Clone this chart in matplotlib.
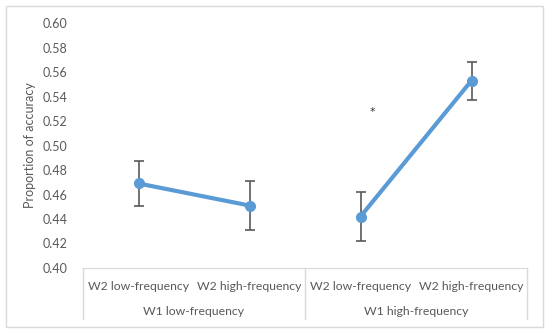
import matplotlib.pyplot as plt
from matplotlib.patches import Rectangle

plt.rcParams['font.family'] = ['Lato', 'DejaVu Sans']

w2_labels = ["W2 low-frequency", "W2 high-frequency", "W2 low-frequency", "W2 high-frequency"]
w1_labels = ["W1 low-frequency", "W1 high-frequency"]
accuracy_low = [0.469, 0.451]
accuracy_high = [0.442, 0.553]
err_low = [0.018, 0.020]
err_high = [0.020, 0.0155]
star_y = 0.527

text_col = "#595959"
line_col = "#5B9BD5"
grid_col = "#D9D9D9"


def main():
    fig = plt.figure(figsize=(5.5, 3.33), dpi=100)
    fig.patches.append(Rectangle((6 / 550, 6 / 333), 537 / 550, 321 / 333,
                                 transform=fig.transFigure, fill=False,
                                 edgecolor=grid_col, lw=1))
    ax = fig.add_axes([83 / 550, 65 / 333, 444 / 550, 245 / 333])

    for xs, ys, es in [([0, 1], accuracy_low, err_low), ([2, 3], accuracy_high, err_high)]:
        ax.errorbar(xs, ys, yerr=es, fmt="none", ecolor=text_col, elinewidth=1.2,
                    capsize=3.5, capthick=1.2, zorder=2)
        ax.plot(xs, ys, color=line_col, lw=3, marker="o", ms=7, zorder=3)

    ax.text(2.11, star_y, "*", ha="center", va="center", fontsize=8,
            color="#333333", family="DejaVu Sans")

    ax.set_xlim(-0.5, 3.5)
    ax.set_ylim(0.40, 0.60)
    ax.set_yticks([0.40 + 0.02 * i for i in range(11)])
    ax.set_yticklabels([f"{0.40 + 0.02 * i:.2f}" for i in range(11)])
    ax.tick_params(axis="y", length=0, colors=text_col, labelsize=9, pad=11)
    ax.set_xticks([])
    for s in ["top", "right", "left"]:
        ax.spines[s].set_visible(False)
    ax.spines["bottom"].set_color(grid_col)
    ax.set_ylabel("Proportion of accuracy", color=text_col, fontsize=9, labelpad=5)

    # category axis text and separators
    tr = ax.get_xaxis_transform()
    for i, lab in enumerate(w2_labels):
        ax.text(i, -0.075, lab, transform=tr, ha="center", va="center",
                fontsize=8.8, color=text_col)
    for j, lab in enumerate(w1_labels):
        ax.text(0.5 + 2 * j, -0.178, lab, transform=tr, ha="center", va="center",
                fontsize=8.8, color=text_col)
    for xv in [-0.5, 1.5, 3.5]:
        ax.plot([xv, xv], [0, -0.21], transform=tr, color=grid_col, lw=1, clip_on=False)

    fig.savefig("out.png", dpi=100)


if __name__ == "__main__":
    main()
